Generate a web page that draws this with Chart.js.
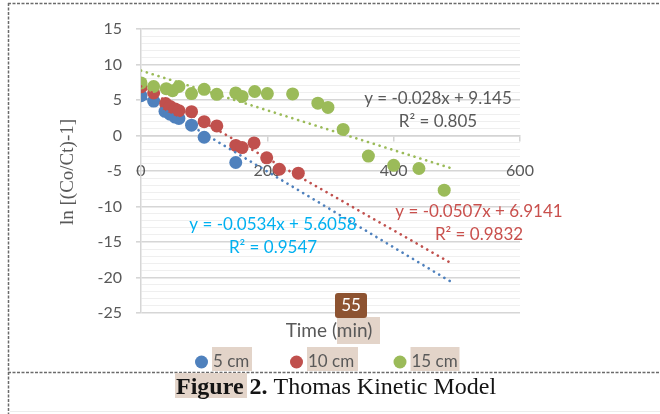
<!DOCTYPE html>
<html>
<head>
<meta charset="utf-8">
<script src="https://cdn.jsdelivr.net/npm/chart.js@4.4.1/dist/chart.umd.min.js"></script>
<style>
    html, body { margin: 0; padding: 0; background: #fff; }
    #wrap { width: 660px; height: 414px; }
</style>
</head>
<body>
<div id="wrap"><canvas id="kinetic" width="660" height="414"></canvas></div>
<script>
// values
const seriesNames = ['5 cm', '10 cm', '15 cm'];
const seriesColors = ['#4f81bd', '#c0504d', '#9bbb59'];

const time5 = [0, 20, 38, 46, 54, 60, 80, 100, 150];
const ln5 = [5.6, 4.85, 3.4, 3.0, 2.6, 2.4, 1.45, -0.25, -3.8];

const time10 = [0, 20, 39, 46, 54, 60, 80, 100, 120, 150, 160, 179, 199, 219, 249];
const ln10 = [6.85, 6.0, 4.5, 4.1, 3.75, 3.5, 3.35, 1.95, 1.35, -1.4, -1.7, -1.05, -3.15, -4.75, -5.3];

const time15 = [0, 20, 40, 50, 60, 80, 100, 120, 150, 160, 180, 200, 240, 280, 296, 320, 360, 400, 440, 480];
const ln15 = [7.4, 6.9, 6.6, 6.3, 6.9, 5.9, 6.5, 5.8, 6.0, 5.5, 6.2, 5.9, 5.85, 4.55, 3.95, 0.85, -2.9, -4.2, -4.65, -7.7];

// linear trendlines as printed on the chart: [slope, intercept, r2]
const fits = [
    [-0.0534, 5.6058, 0.9547],
    [-0.0507, 6.9141, 0.9832],
    [-0.028, 9.145, 0.805],
];
const trendRange = [0, 495];

const xTicks = [0, 200, 400, 600];
const yRange = [-25, 15];

function pairs(xs, ys) {
    return xs.map((x, i) => ({ x: x, y: ys[i] }));
}

function trendPoints(fit) {
    return trendRange.map((x) => ({ x: x, y: fit[0] * x + fit[1] }));
}

const GRAY = '#595959';
const SANS = 'Lato, "Open Sans", sans-serif';
const SERIF = '"Liberation Serif", "DejaVu Serif", serif';
const HILITE = '#e3d4c9';

const scatterSets = [
    { data: pairs(time5, ln5), order: 3 },
    { data: pairs(time10, ln10), order: 2 },
    { data: pairs(time15, ln15), order: 1 },
].map((d, i) => ({
    label: seriesNames[i],
    data: d.data,
    order: d.order,
    backgroundColor: seriesColors[i],
    borderColor: seriesColors[i],
    pointRadius: 6.5,
    pointHoverRadius: 6.5,
    borderWidth: 0,
}));

const trendSets = fits.map((fit, i) => ({
    label: 'trend ' + seriesNames[i],
    data: trendPoints(fit),
    showLine: true,
    order: 0,
    borderColor: seriesColors[i],
    borderWidth: 2.6,
    borderDash: [0.1, 6],
    borderCapStyle: 'round',
    pointRadius: 0,
    fill: false,
}));

// equation boxes: centre x, first line y, colour
const eqLabels = [
    { cx: 273, y: 225, color: '#00b0f0' },
    { cx: 479, y: 212, color: '#c9504d' },
    { cx: 438, y: 99, color: GRAY },
];

function hilite(ctx, x, y, w, h) {
    ctx.fillStyle = HILITE;
    ctx.fillRect(x, y, w, h);
}

const decorations = {
    id: 'decorations',
    afterDraw(chart) {
        const ctx = chart.ctx;
        ctx.save();

        // trendline equations
        ctx.font = '17px ' + SANS;
        ctx.textAlign = 'center';
        ctx.textBaseline = 'middle';
        fits.forEach((fit, i) => {
            const lab = eqLabels[i];
            ctx.fillStyle = lab.color;
            ctx.fillText('y = ' + fit[0] + 'x + ' + fit[1], lab.cx, lab.y);
            ctx.fillText('R\u00b2 = ' + fit[2], lab.cx, lab.y + 23);
        });

        // y axis title
        ctx.save();
        ctx.translate(68, 172);
        ctx.rotate(-Math.PI / 2);
        ctx.font = '19px ' + SERIF;
        ctx.fillStyle = GRAY;
        ctx.fillText('ln [(Co/Ct)-1]', 0, 0);
        ctx.restore();

        // x axis title with highlight
        hilite(ctx, 337, 317, 43, 27);
        ctx.font = '19px ' + SANS;
        ctx.fillStyle = GRAY;
        ctx.fillText('Time (min)', 329, 331);

        // page badge
        ctx.fillStyle = '#8d5331';
        ctx.beginPath();
        ctx.roundRect(335, 293, 32, 25, 3);
        ctx.fill();
        ctx.fillStyle = '#ffffff';
        ctx.font = '17px ' + SANS;
        ctx.fillText('55', 351, 306);

        // legend
        const legendX = [201.5, 296.5, 400];
        const legendW = [40, 51, 49];
        ctx.font = '17px ' + SANS;
        ctx.textAlign = 'left';
        seriesNames.forEach((name, i) => {
            hilite(ctx, legendX[i] + 10.5, 347, legendW[i], 24);
            ctx.fillStyle = seriesColors[i];
            ctx.beginPath();
            ctx.arc(legendX[i], 362, 6.5, 0, Math.PI * 2);
            ctx.fill();
            ctx.fillStyle = GRAY;
            ctx.fillText(name, legendX[i] + 11.5, 362);
        });

        // dashed frame
        ctx.strokeStyle = '#6b6b6b';
        ctx.lineWidth = 1.5;
        ctx.setLineDash([3, 1.5]);
        ctx.beginPath();
        ctx.moveTo(8.5, 3);
        ctx.lineTo(8.5, 414);
        ctx.moveTo(8, 3.5);
        ctx.lineTo(660, 3.5);
        ctx.moveTo(8, 372.5);
        ctx.lineTo(660, 372.5);
        ctx.stroke();
        ctx.setLineDash([]);
        ctx.strokeStyle = '#ececec';
        ctx.lineWidth = 1;
        ctx.beginPath();
        ctx.moveTo(10, 411.5);
        ctx.lineTo(660, 411.5);
        ctx.stroke();

        // caption
        hilite(ctx, 175, 373, 72, 25);
        ctx.fillStyle = '#141414';
        ctx.textBaseline = 'alphabetic';
        ctx.font = 'bold 24px ' + SERIF;
        let x = 176;
        ctx.fillText('Figure', x, 394);
        x += ctx.measureText('Figure ').width;
        ctx.fillText('2.', x, 394);
        x += ctx.measureText('2. ').width;
        ctx.font = '24px ' + SERIF;
        ctx.fillText('Thomas Kinetic Model', x, 394);

        ctx.restore();
    },
};

new Chart(document.getElementById('kinetic'), {
    type: 'scatter',
    data: { datasets: trendSets.concat(scatterSets) },
    options: {
        responsive: false,
        animation: false,
        events: [],
        layout: { padding: { left: 81, right: 140, top: 29, bottom: 101 } },
        plugins: {
            legend: { display: false },
            tooltip: { enabled: false },
        },
        scales: {
            x: {
                type: 'linear',
                position: { y: 0 },
                min: xTicks[0],
                max: xTicks[xTicks.length - 1],
                afterFit: (s) => { s.height = 0; },
                afterBuildTicks: (s) => { s.ticks = xTicks.map((v) => ({ value: v })); },
                ticks: {
                    color: GRAY,
                    font: { family: SANS, size: 16 },
                    padding: 21,
                    maxRotation: 0,
                },
                grid: { drawOnChartArea: false, tickLength: 5, color: '#d4d4d4', lineWidth: 1.5 },
                border: { color: '#d4d4d4', width: 1.5 },
            },
            y: {
                min: yRange[0],
                max: yRange[1],
                afterFit: (s) => { s.width = 60; },
                ticks: {
                    stepSize: 1,
                    autoSkip: false,
                    color: GRAY,
                    font: { family: SANS, size: 16 },
                    padding: 14,
                    callback: (v) => (v % 5 === 0 ? String(v) : ''),
                },
                grid: {
                    color: (c) => (c.tick && c.tick.value % 5 === 0 ? '#d6d6d6' : '#efefef'),
                    lineWidth: (c) => (c.tick && c.tick.value % 5 === 0 ? 1.6 : 1),
                    tickLength: 5,
                    tickColor: (c) => (c.tick && c.tick.value % 5 === 0 ? '#d6d6d6' : 'rgba(0,0,0,0)'),
                },
                border: { color: '#d6d6d6', width: 1.5 },
            },
        },
    },
    plugins: [decorations],
});
</script>
</body>
</html>
